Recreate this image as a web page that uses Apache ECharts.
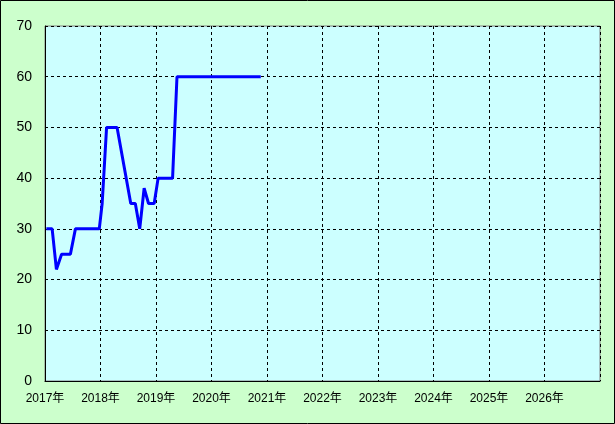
<!DOCTYPE html>
<html>
<head>
<meta charset="utf-8">
<script src="https://cdn.jsdelivr.net/npm/echarts@6/dist/echarts.min.js"></script>
<style>
html,body{margin:0;padding:0;background:#CCFFCC;}
#c{width:615px;height:424px;}
</style>
</head>
<body>
<div id="c"></div>
<script>
// Data
var dates = ['2017-01-10','2017-02-17','2017-03-17','2017-04-20','2017-06-17','2017-07-20',
             '2017-12-24','2018-01-12','2018-02-10','2018-04-20','2018-07-19','2018-08-18',
             '2018-09-16','2018-10-15','2018-11-13','2018-12-20','2019-01-15','2019-04-20',
             '2019-05-19','2020-11-21'];
var values = [30,30,22,25,25,30,30,35,50,50,35,35,30,38,35,35,40,40,60,60];
var yearMin = 2017, yearMax = 2027;
var yTicks = [0,10,20,30,40,50,60,70];

function toYear(s){
  var d = new Date(s + 'T00:00:00Z');
  var y = d.getUTCFullYear();
  var start = Date.UTC(y,0,1), end = Date.UTC(y+1,0,1);
  return y + (d.getTime()-start)/(end-start);
}
var seriesData = dates.map(function(d,i){ return [toYear(d), values[i]]; });

var chart = echarts.init(document.getElementById('c'));
chart.setOption({
  backgroundColor: '#CCFFCC',
  animation: false,
  graphic: [{
    type: 'rect', z: 100, silent: true,
    shape: {x: 0.5, y: 0.5, width: 614, height: 423},
    style: {fill: 'none', stroke: '#000', lineWidth: 1}
  }],
  grid: {
    left: 45, right: 15, top: 26, bottom: 43,
    show: true, backgroundColor: '#CCFFFF', borderColor: '#808080', borderWidth: 1
  },
  xAxis: {
    type: 'value', min: yearMin, max: yearMax, interval: 1,
    axisLine: {show: true, lineStyle: {color: '#000', width: 1}},
    axisTick: {show: false},
    axisLabel: {
      color: '#000', fontSize: 12, fontFamily: 'Liberation Sans, Noto Sans CJK JP, sans-serif',
      margin: 12, showMaxLabel: false,
      formatter: function(v){ return v >= yearMax ? '' : v + '年'; }
    },
    splitLine: {show: true, lineStyle: {color: '#000', type: [3,3], width: 1}}
  },
  yAxis: {
    type: 'value', min: yTicks[0], max: yTicks[yTicks.length-1], interval: 10,
    axisLine: {show: true, lineStyle: {color: '#000', width: 1}},
    axisTick: {show: false},
    axisLabel: {color: '#000', fontSize: 14, fontFamily: 'Liberation Sans, sans-serif', margin: 13},
    splitLine: {show: true, lineStyle: {color: '#000', type: [3,3], width: 1}}
  },
  series: [{
    type: 'line',
    data: seriesData,
    symbol: 'none',
    lineStyle: {color: '#0000FF', width: 3},
    z: 5
  }]
});
</script>
</body>
</html>
